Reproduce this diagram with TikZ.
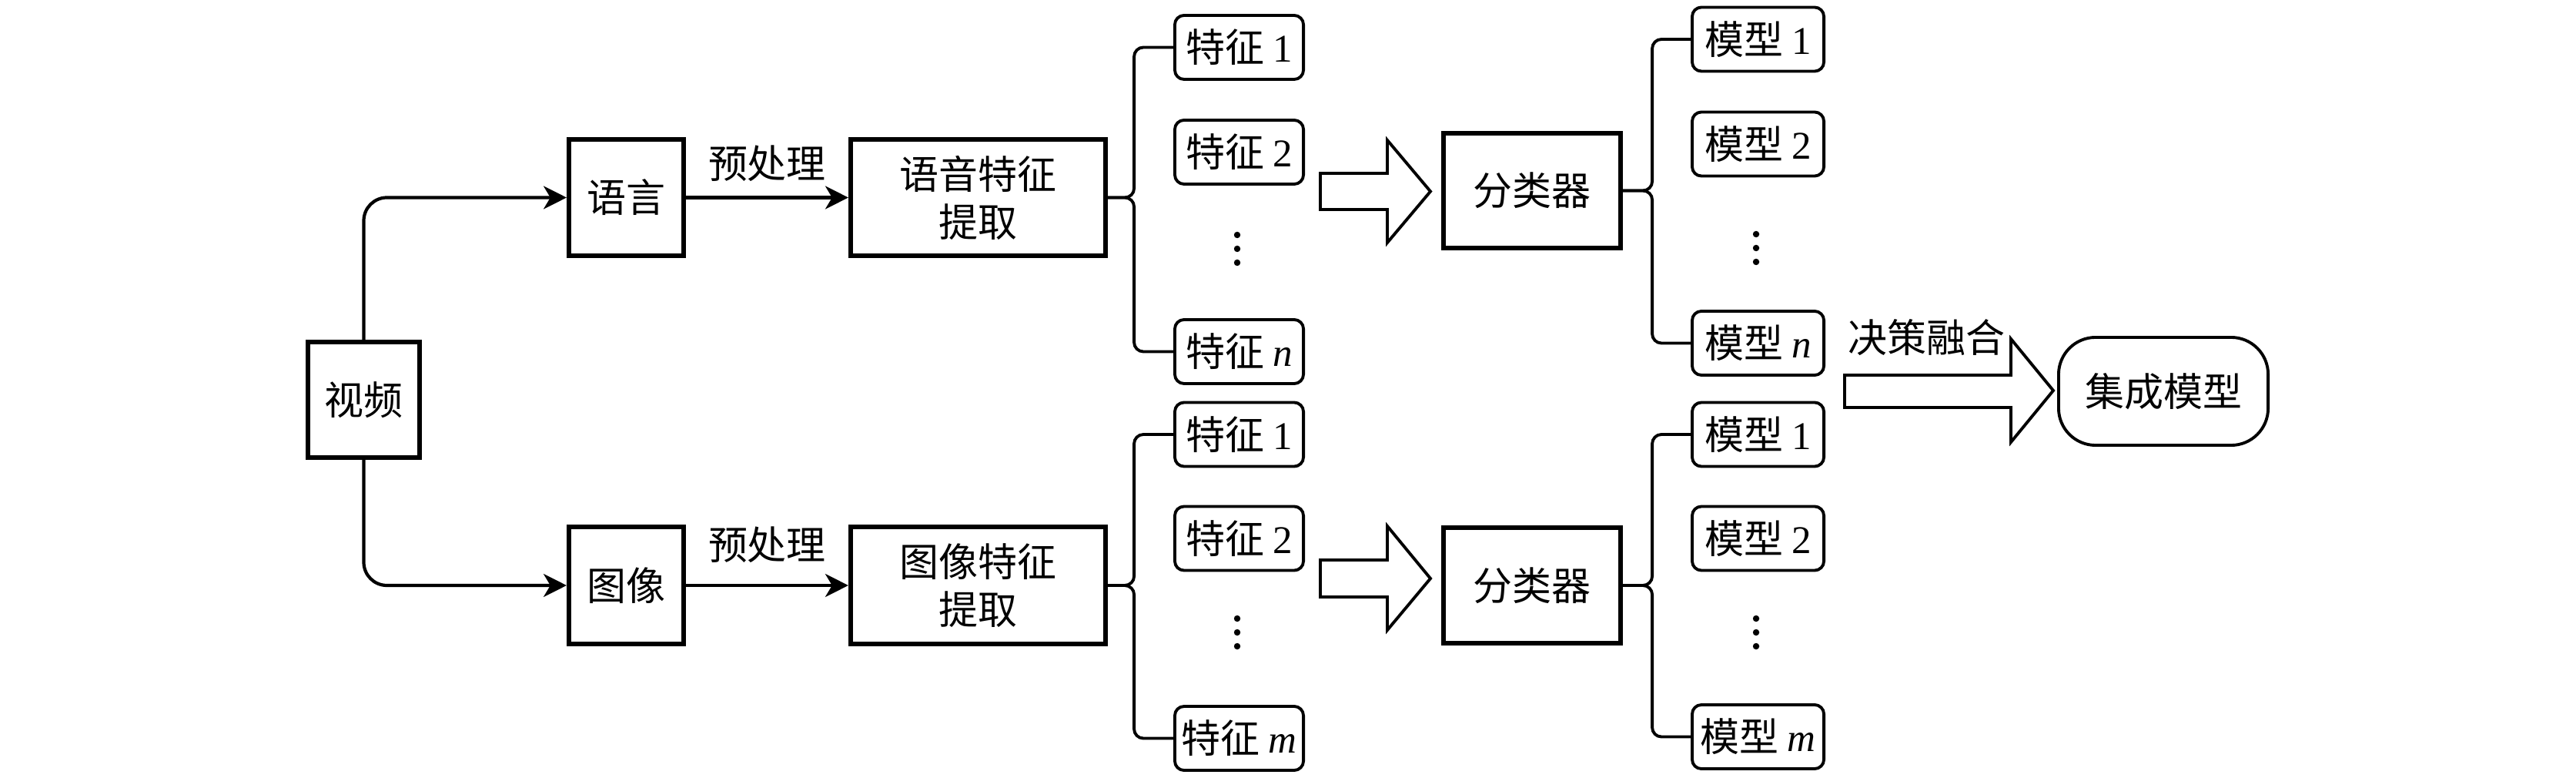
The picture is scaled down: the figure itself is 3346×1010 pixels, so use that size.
\documentclass[tikz,border=0pt]{standalone}
\usepackage{fontspec}
\setmainfont{Liberation Serif}
\newfontfamily\cjk{Noto Sans CJK SC}
\usetikzlibrary{arrows.meta}
\begin{document}
\begin{tikzpicture}[x=0.01cm,y=-0.01cm,
  every node/.style={font=\cjk\fontsize{14.5pt}{17.6pt}\selectfont, inner sep=0pt, align=center},
  mbox/.style n args={2}{draw, line width=1.7pt, minimum width=#1, minimum height=#2},
  fbox/.style={draw, line width=1.1pt, rounded corners=0.12cm, minimum width=1.67cm, minimum height=0.83cm},
  mdbox/.style={draw, line width=1.1pt, rounded corners=0.12cm, minimum width=1.71cm, minimum height=0.83cm},
  conn/.style={line width=1.2pt, -{Stealth[length=8.5pt,width=8.5pt,inset=2.5pt]}},
  brc/.style={line width=1.1pt, rounded corners=0.12cm},
  hollow/.style={draw, line width=1.1pt, fill=white, line join=miter},
  dot/.style={fill=black}
]
\useasboundingbox (0,0) rectangle (3346,1010);

% left column
\node[mbox={1.45cm}{1.50cm}] (video) at (472.5,519) {视频};
\node[mbox={1.49cm}{1.51cm}] (lang) at (813.5,256.5) {语言};
\node[mbox={1.49cm}{1.51cm}] (img) at (813.5,760) {图像};
\node[mbox={3.31cm}{1.51cm}] (sfe) at (1270.5,256.5) {语音特征\\提取};
\node[mbox={3.31cm}{1.51cm}] (ife) at (1270.5,760) {图像特征\\提取};

% feature boxes
\node[fbox] (f1u) at (1609.5,61.5) {特征 {\rmfamily 1}};
\node[fbox] (f2u) at (1609.5,197.5) {特征 {\rmfamily 2}};
\node[fbox] (fnu) at (1609.5,456.5) {特征 {\rmfamily\itshape n}};
\node[fbox] (f1l) at (1609.5,564) {特征 {\rmfamily 1}};
\node[fbox] (f2l) at (1609.5,699) {特征 {\rmfamily 2}};
\node[fbox] (fml) at (1609.5,958.5) {特征 {\rmfamily\itshape m}};

% classifiers
\node[mbox={2.30cm}{1.49cm}] (clsu) at (1990,247.5) {分类器};
\node[mbox={2.30cm}{1.49cm}] (clsl) at (1990,760) {分类器};

% model boxes
\node[mdbox] (m1u) at (2283.5,51) {模型 {\rmfamily 1}};
\node[mdbox] (m2u) at (2283.5,187) {模型 {\rmfamily 2}};
\node[mdbox] (mnu) at (2283.5,445.5) {模型 {\rmfamily\itshape n}};
\node[mdbox] (m1l) at (2283.5,564) {模型 {\rmfamily 1}};
\node[mdbox] (m2l) at (2283.5,699) {模型 {\rmfamily 2}};
\node[mdbox] (mml) at (2283.5,956.5) {模型 {\rmfamily\itshape m}};

% ensemble
\node[draw, line width=1.1pt, rounded corners=0.48cm, minimum width=2.72cm, minimum height=1.40cm] (ens) at (2810,508) {集成模型};

% dots
\foreach \xx/\yy in {1607/323, 1607/821, 2281/322, 2281/821}{
  \fill[dot] (\xx,\yy-18) circle (1.2pt);
  \fill[dot] (\xx,\yy) circle (1.2pt);
  \fill[dot] (\xx,\yy+18) circle (1.2pt);
}

% arrows from video
\draw[conn, rounded corners=0.3cm] (video.north) |- (lang.west);
\draw[conn, rounded corners=0.3cm] (video.south) |- (img.west);
\draw[conn] (lang.east) -- node[midway, yshift=0.44cm] (pre1) {预处理} (sfe.west);
\draw[conn] (img.east) -- node[midway, yshift=0.53cm] (pre2) {预处理} (ife.west);

% braces to features
\draw[brc] (sfe.east) -- ++(34,0) |- (f1u.west);
\draw[brc] (sfe.east) -- ++(34,0) |- (fnu.west);
\draw[brc] (ife.east) -- ++(34,0) |- (f1l.west);
\draw[brc] (ife.east) -- ++(34,0) |- (fml.west);

% braces to models
\draw[brc] (clsu.east) -- ++(38,0) |- (m1u.west);
\draw[brc] (clsu.east) -- ++(38,0) |- (mnu.west);
\draw[brc] (clsl.east) -- ++(38,0) |- (m1l.west);
\draw[brc] (clsl.east) -- ++(38,0) |- (mml.west);

% hollow arrows
\draw[hollow] (1715,225) -- (1802,225) -- (1802,182) -- (1858,248.5) -- (1802,315) -- (1802,272) -- (1715,272) -- cycle;
\draw[hollow] (1715,727) -- (1802,727) -- (1802,683) -- (1858,751) -- (1802,818) -- (1802,775) -- (1715,775) -- cycle;
\draw[hollow] (2396,487) -- (2612,487) -- (2612,440) -- (2667,507) -- (2612,574) -- (2612,529) -- (2396,529) -- cycle;
\node (fuse) at (2502,438) {决策融合};

\end{tikzpicture}
\end{document}
